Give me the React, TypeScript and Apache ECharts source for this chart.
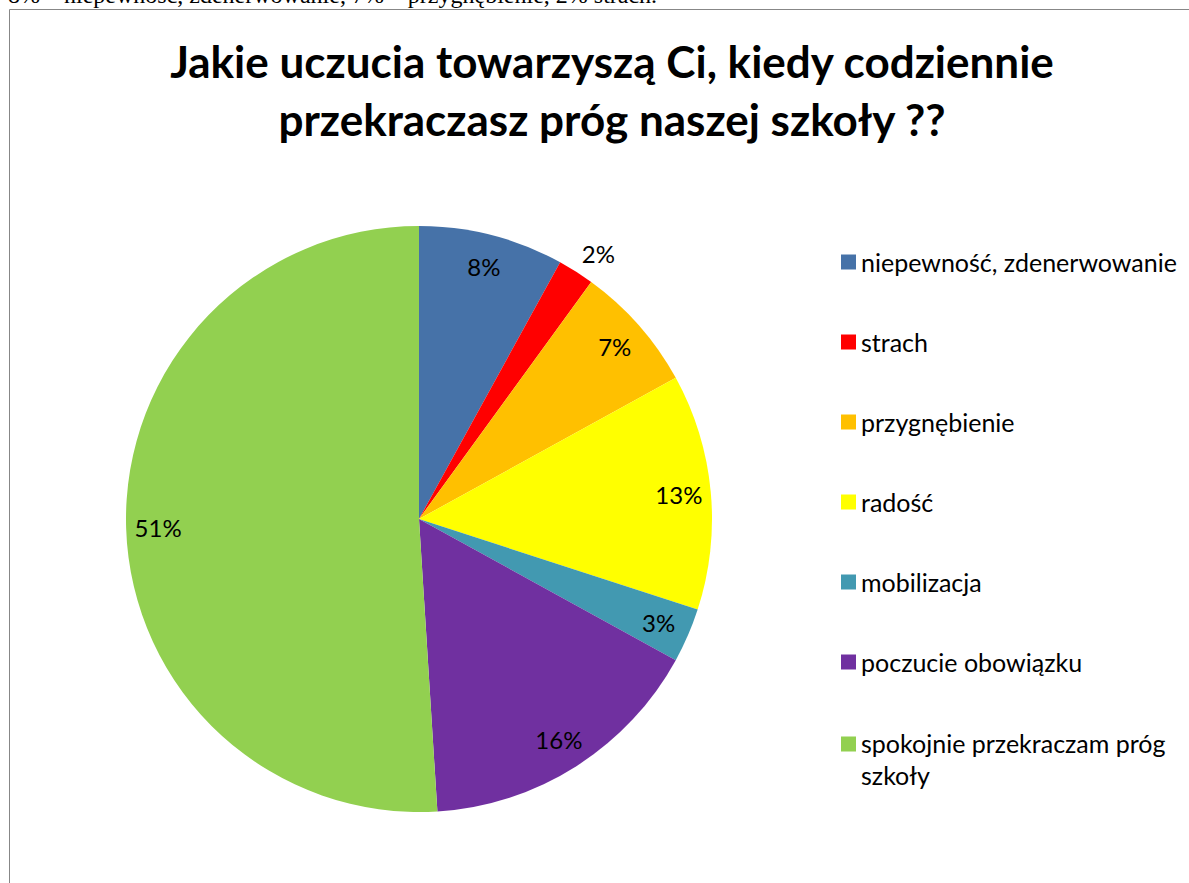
import React, { useEffect, useRef } from "react";
import * as echarts from "echarts";

const categories = [
  "niepewność, zdenerwowanie",
  "strach",
  "przygnębienie",
  "radość",
  "mobilizacja",
  "poczucie obowiązku",
  "spokojnie przekraczam próg szkoły",
];
const values = [8, 2, 7, 13, 3, 16, 51];
const colors = ["#4672A8", "#FF0000", "#FFC000", "#FFFF00", "#4299B1", "#7030A0", "#92D050"];
const outsideLabels = ["strach"];
const titleText = "Jakie uczucia towarzyszą Ci, kiedy codziennie\nprzekraczasz próg naszej szkoły ??";
const pageText = "8% – niepewność, zdenerwowanie, 7% – przygnębienie, 2% strach.";

export default function App() {
  const ref = useRef<HTMLDivElement>(null);
  useEffect(() => {
    if (!ref.current) return;
    const chart = echarts.init(ref.current, null, { renderer: "svg" });
    const font = "Lato, 'Noto Sans', sans-serif";
    const mainData = categories.map((name, i) => {
      const outside = outsideLabels.includes(name);
      return {
        name,
        value: values[i],
        itemStyle: { color: colors[i] },
        label: outside
          ? { show: true, position: "outside", distanceToLabelLine: -6 }
          : { show: false },
        labelLine: { show: false, length: 22, length2: 0 },
      };
    });
    const labelData = categories.map((name, i) => ({
      name,
      value: values[i],
      label: { show: !outsideLabels.includes(name) },
    }));
    chart.setOption({
      animation: false,
      title: {
        text: titleText,
        left: 607,
        top: 27,
        textAlign: "center",
        textStyle: {
          fontFamily: font,
          fontSize: 44,
          fontWeight: "bold",
          lineHeight: 58,
          color: "#000",
        },
      },
      graphic: [
        {
          type: "rect",
          shape: { x: 9.5, y: 9.5, width: 1300, height: 1000 },
          style: { fill: "none", stroke: "#878787", lineWidth: 1 },
          silent: true,
        },
        {
          type: "text",
          x: 8,
          y: -5,
          style: {
            text: pageText,
            fontFamily: "'Liberation Serif', 'Times New Roman', serif",
            fontSize: 24,
            fill: "#000",
            verticalAlign: "middle",
          },
          silent: true,
        },
      ],
      legend: [
        {
          orient: "vertical",
          left: 841,
          top: 247,
          padding: 0,
          itemWidth: 15,
          itemHeight: 15,
          itemGap: 50,
          icon: "rect",
          selectedMode: false,
          data: categories.slice(0, 6),
          textStyle: { fontFamily: font, fontSize: 25, lineHeight: 30, color: "#000" },
        },
        {
          orient: "vertical",
          left: 841,
          top: 727,
          padding: 0,
          itemWidth: 15,
          itemHeight: 45,
          selectedMode: false,
          data: categories.slice(6).map((name) => ({
            name,
            icon: "path://M0 0H15V15H0Z M0 44.99H0.01V45H0Z",
          })),
          formatter: (n: string) => n.replace(" szkoły", "\nszkoły"),
          textStyle: { fontFamily: font, fontSize: 25, lineHeight: 32, color: "#000" },
        },
      ],
      series: [
        {
          type: "pie",
          center: [419, 519],
          radius: [0, 293],
          startAngle: 90,
          clockwise: true,
          silent: true,
          emphasis: { disabled: true },
          data: mainData,
          label: {
            fontFamily: font,
            fontSize: 24,
            color: "#000",
            formatter: "{c}%",
          },
        },
        {
          type: "pie",
          center: [419, 519],
          radius: [224, 292],
          startAngle: 90,
          clockwise: true,
          silent: true,
          emphasis: { disabled: true },
          itemStyle: { color: "rgba(0,0,0,0)" },
          labelLine: { show: false },
          data: labelData,
          label: {
            position: "inside",
            fontFamily: font,
            fontSize: 24,
            color: "#000",
            formatter: "{c}%",
          },
        },
      ],
    });
    return () => chart.dispose();
  }, []);
  return (
    <div
      ref={ref}
      style={{ position: "fixed", left: 0, top: 0, width: 1189, height: 883, background: "#fff" }}
    />
  );
}
